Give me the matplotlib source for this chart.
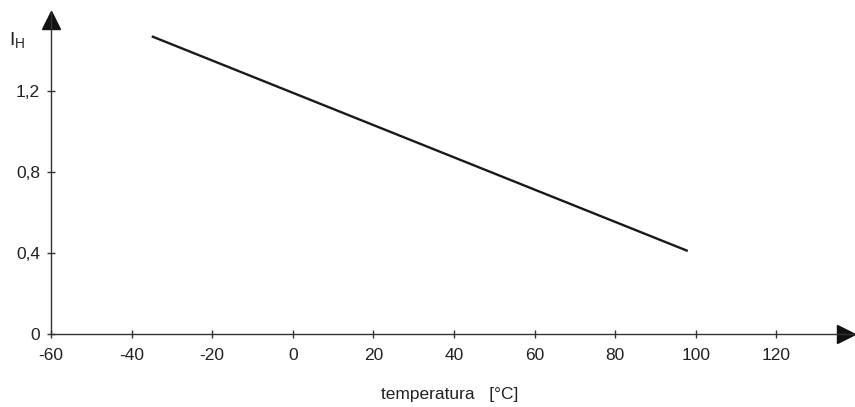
import matplotlib
matplotlib.use("Agg")
import matplotlib.pyplot as plt

# Data
temperature = [-35, 98]
ih = [1.47, 0.41]
xticks = [-60, -40, -20, 0, 20, 40, 60, 80, 100, 120]
yticks = [0, 0.4, 0.8, 1.2]
ytick_labels = ["0", "0,4", "0,8", "1,2"]

plt.rcParams['font.family'] = ['Liberation Sans', 'DejaVu Sans']
plt.rcParams['mathtext.fontset'] = 'custom'
plt.rcParams['mathtext.rm'] = 'Liberation Sans'
plt.rcParams['mathtext.it'] = 'Liberation Sans'

fig = plt.figure(figsize=(8.55, 4.07), dpi=100)
ax = fig.add_axes([51/855, 73/407, 802/855, 322/407])
ax.set_xlim(-60, 139)
ax.set_ylim(0, 1.59)

ax.plot(temperature, ih, color='#1a1a1a', lw=1.7, solid_capstyle='butt')

for s in ['top', 'right']:
    ax.spines[s].set_visible(False)
for s in ['left', 'bottom']:
    ax.spines[s].set_color('#333333')
    ax.spines[s].set_linewidth(1.0)

ax.set_xticks(xticks)
ax.set_xticklabels([str(v) for v in xticks])
ax.set_yticks(yticks)
ax.set_yticklabels(ytick_labels)
ax.tick_params(axis='both', direction='inout', length=6, width=1.0, color='#333333',
               labelsize=12.5, labelcolor='#222222')
ax.tick_params(axis='x', pad=7)
ax.tick_params(axis='y', pad=5)

# arrow heads
ax.plot(137.2, 0, marker='>', color='#111111', markersize=13, clip_on=False)
ax.plot(-60, 1.55, marker='^', color='#111111', markersize=13, clip_on=False)

fig.text(9/855, 1 - 45/407, r"I$_\mathrm{H}$", fontsize=14, color='#222222', va='baseline')
fig.text(450/855, 1 - 395/407, "temperatura   [°C]", fontsize=12.5, color='#222222', ha='center', va='center')

fig.savefig("out.png", dpi=100)
